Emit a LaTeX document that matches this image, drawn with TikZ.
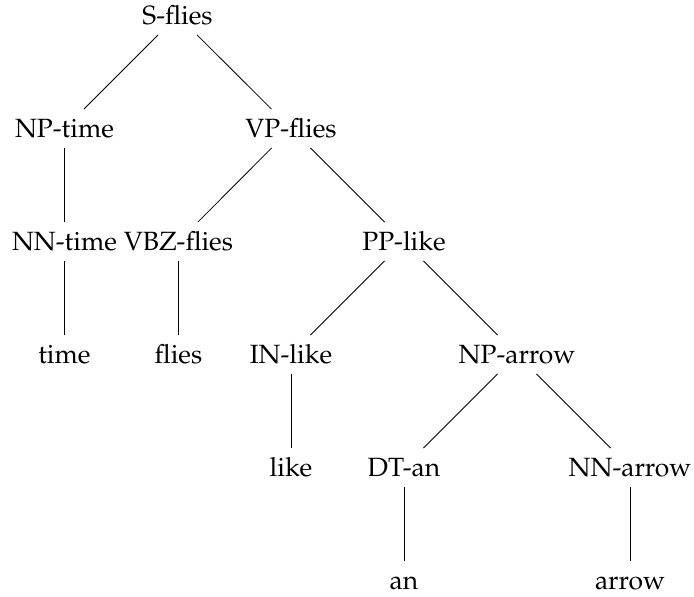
\documentclass[tikz,border=0pt]{standalone}
\usepackage[T1]{fontenc}
\usepackage{mathpazo}
\begin{document}
\begin{tikzpicture}[x=0.5pt,y=-0.5pt,
  tn/.style={anchor=base,inner ysep=0pt,inner xsep=2pt,text height=14pt,text depth=5pt,font=\fontsize{13.2}{16}\selectfont},
  edge/.style={draw=black,line width=0.4pt}]
\useasboundingbox (0,0) rectangle (694,596);
% level baselines
\def\La{24.5}\def\Lb{137.5}\def\Lc{250.5}\def\Ld{363.5}\def\Le{476.5}\def\Lf{589}
\node[tn] (s)     at (177.5,\La) {S-flies};
\node[tn] (np)    at (64.5,\Lb) {NP-time};
\node[tn] (vp)    at (291,\Lb)  {VP-flies};
\node[tn] (nn)    at (64.5,\Lc) {NN-time};
\node[tn] (vbz)   at (178.5,\Lc){VBZ-flies};
\node[tn] (pp)    at (404,\Lc)  {PP-like};
\node[tn] (time)  at (64.5,\Ld) {time};
\node[tn] (flies) at (178.5,\Ld){flies};
\node[tn] (in)    at (291,\Ld)  {IN-like};
\node[tn] (npa)   at (517,\Ld)  {NP-arrow};
\node[tn] (like)  at (291,\Le)  {like};
\node[tn] (dt)    at (404,\Le)  {DT-an};
\node[tn] (nna)   at (630,\Le)  {NN-arrow};
\node[tn] (an)    at (404,\Lf)  {an};
\node[tn] (arrow) at (630,\Lf)  {arrow};
\draw[edge] (s) -- (np);
\draw[edge] (s) -- (vp);
\draw[edge] (np) -- (nn);
\draw[edge] (vp) -- (vbz);
\draw[edge] (vp) -- (pp);
\draw[edge] (nn) -- (time);
\draw[edge] (vbz) -- (flies);
\draw[edge] (pp) -- (in);
\draw[edge] (pp) -- (npa);
\draw[edge] (in) -- (like);
\draw[edge] (npa) -- (dt);
\draw[edge] (npa) -- (nna);
\draw[edge] (dt) -- (an);
\draw[edge] (nna) -- (arrow);
\end{tikzpicture}
\end{document}
